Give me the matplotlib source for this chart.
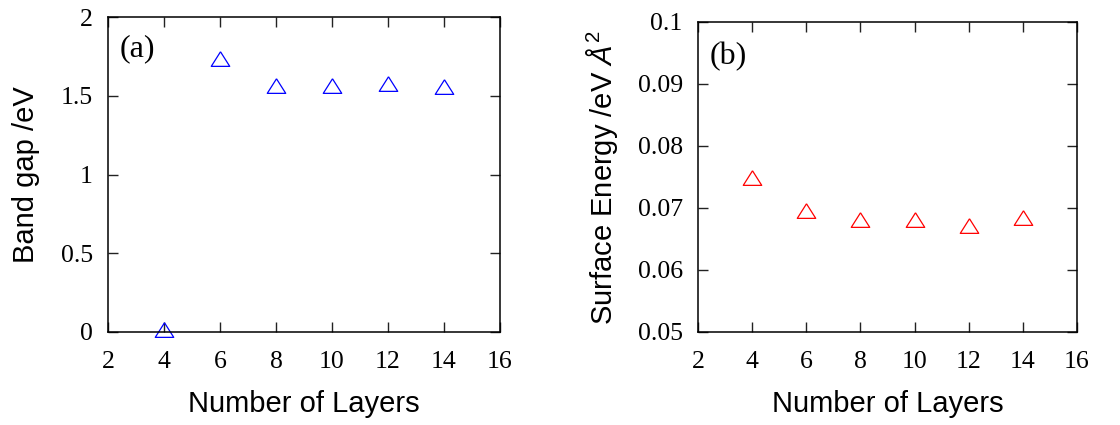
import numpy as np
import matplotlib
matplotlib.use("Agg")
import matplotlib.pyplot as plt

plt.rcParams['mathtext.fontset'] = 'custom'
plt.rcParams['mathtext.rm'] = 'Liberation Sans'
plt.rcParams['mathtext.it'] = 'Liberation Sans:italic'

# number of layers in the slab
layers = [4, 6, 8, 10, 12, 14]
# band gap (eV)
band_gap = [0.0, 1.72, 1.55, 1.55, 1.56, 1.54]
# surface energy (eV / A^2)
surf_energy = [0.0745, 0.0692, 0.0678, 0.0677, 0.0668, 0.0681]

xticks = [2, 4, 6, 8, 10, 12, 14, 16]
yticks_a = [0, 0.5, 1, 1.5, 2]
yticks_a_lab = ['0', '0.5', '1', '1.5', '2']
yticks_b = [0.05, 0.06, 0.07, 0.08, 0.09, 0.1]
yticks_b_lab = ['0.05', '0.06', '0.07', '0.08', '0.09', '0.1']

# open triangle, point sits at the centroid (gnuplot style)
tri = [(0, 1.0), (-0.95, -0.5), (0.95, -0.5), (0, 1.0)]

serif = 'Liberation Serif'
sans = 'Liberation Sans'

fig = plt.figure(figsize=(11.2, 4.25), dpi=100)
ax1 = fig.add_axes([108/1120, 93/425, 392/1120, 315/425])
ax2 = fig.add_axes([698/1120, 93/425, 379/1120, 310/425])


def style(ax, yticks, ylabs):
    ax.set_xlim(2, 16)
    ax.set_xticks(xticks)
    ax.set_xticklabels([str(t) for t in xticks], fontfamily=serif, fontsize=18.5)
    ax.set_yticks(yticks)
    ax.set_yticklabels(ylabs, fontfamily=serif, fontsize=18.5)
    ax.set_ylim(yticks[0], yticks[-1])
    ax.tick_params(direction='in', length=7, width=1, top=True, right=True,
                   color='#222222')
    ax.tick_params(axis='x', pad=14)
    ax.tick_params(axis='y', pad=11)
    for s in ax.spines.values():
        s.set_linewidth(1.1)
    ax.set_xlabel('Number of Layers', fontfamily=sans, fontsize=21)


ax1.plot(layers, band_gap, linestyle='none', marker=tri, markersize=14,
         markerfacecolor='none', markeredgecolor='blue', markeredgewidth=0.9,
         clip_on=False)
style(ax1, yticks_a, yticks_a_lab)
ax1.set_ylabel('Band gap /eV', fontfamily=sans, fontsize=21)
ax1.xaxis.set_label_coords(0.5, -0.183)
ax1.yaxis.set_label_coords(-0.173, 0.5)
ax1.text(0.03, 0.90, '(a)', transform=ax1.transAxes, fontfamily=serif,
         fontsize=23, va='center', ha='left')

ax2.plot(layers, surf_energy, linestyle='none', marker=tri, markersize=14,
         markerfacecolor='none', markeredgecolor='red', markeredgewidth=0.9,
         clip_on=False)
style(ax2, yticks_b, yticks_b_lab)
ax2.set_ylabel(r'Surface Energy /eV $Å^2$', fontfamily=sans, fontsize=21)
ax2.xaxis.set_label_coords(0.5, -0.186)
ax2.yaxis.set_label_coords(-0.206, 0.5)
ax2.text(0.03, 0.89, '(b)', transform=ax2.transAxes, fontfamily=serif,
         fontsize=23, va='center', ha='left')

fig.savefig('out.png', dpi=100)
